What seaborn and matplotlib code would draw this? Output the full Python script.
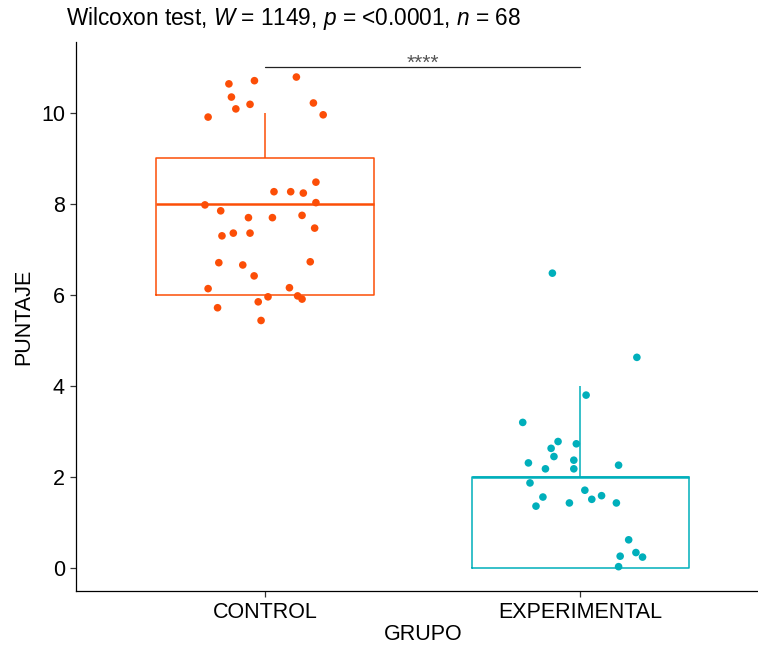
import pandas as pd
import seaborn as sns
import matplotlib.pyplot as plt

# group labels and colours
grupos = ['CONTROL', 'EXPERIMENTAL']
colores = {'CONTROL': '#FC4E07', 'EXPERIMENTAL': '#00AFBB'}

# scores behind the boxes (n = 35 + 33 = 68)
puntaje_control = [6] * 10 + [7] * 5 + [8] * 11 + [10] * 9
puntaje_experimental = [0] * 12 + [2] * 17 + [3, 4, 4, 6]

# jittered points as drawn (y value, x offset from the group centre)
y_control = [10.64, 10.71, 10.79, 10.35, 10.19, 10.09, 10.22, 9.96, 9.91,
             8.48, 8.27, 8.27, 8.24, 7.98, 8.03, 7.85, 7.70, 7.70, 7.75,
             7.47, 7.30, 7.36, 7.36, 6.71, 6.66, 6.73, 6.42, 6.14, 6.16,
             5.96, 5.98, 5.91, 5.85, 5.72, 5.44]
dx_control = [-0.115, -0.034, 0.099, -0.107, -0.048, -0.093, 0.153, 0.184, -0.181,
              0.161, 0.028, 0.081, 0.121, -0.191, 0.161, -0.141, -0.053, 0.023, 0.117,
              0.157, -0.137, -0.101, -0.048, -0.147, -0.071, 0.143, -0.035, -0.181, 0.077,
              0.009, 0.103, 0.117, -0.022, -0.151, -0.013]
y_experimental = [6.48, 4.63, 3.80, 3.20, 2.78, 2.73, 2.63, 2.45, 2.31, 2.37,
                  2.18, 2.18, 2.26, 1.87, 1.71, 1.56, 1.59, 1.51, 1.43, 1.43,
                  1.36, 0.62, 0.34, 0.26, 0.24, 0.03]
dx_experimental = [-0.089, 0.179, 0.018, -0.183, -0.071, -0.013, -0.093, -0.084, -0.165, -0.021,
                   -0.111, -0.021, 0.121, -0.160, 0.014, -0.119, 0.067, 0.036, 0.114, -0.035,
                   -0.141, 0.153, 0.176, 0.126, 0.197, 0.121]

titulo = r"Wilcoxon test, $W$ = 1149, $p$ = <0.0001, $n$ = 68"
signif = '****'
bracket_y = 11

df_box = pd.DataFrame({
    'GRUPO': ['CONTROL'] * len(puntaje_control) + ['EXPERIMENTAL'] * len(puntaje_experimental),
    'PUNTAJE': puntaje_control + puntaje_experimental,
})
df_pts = pd.DataFrame({
    'GRUPO': ['CONTROL'] * len(y_control) + ['EXPERIMENTAL'] * len(y_experimental),
    'PUNTAJE': y_control + y_experimental,
    'dx': dx_control + dx_experimental,
})
df_pts['x'] = df_pts['GRUPO'].map({g: i for i, g in enumerate(grupos)}) + df_pts['dx']

sns.set_style('white')
plt.rcParams['font.family'] = ['Liberation Sans', 'DejaVu Sans']
plt.rcParams['mathtext.fontset'] = 'custom'
plt.rcParams['mathtext.rm'] = 'Liberation Sans'
plt.rcParams['mathtext.it'] = 'Liberation Sans:italic'
plt.rcParams['text.color'] = 'black'
plt.rcParams['axes.labelcolor'] = 'black'

fig = plt.figure(figsize=(7.58, 6.45), dpi=100)
ax = fig.add_axes([76 / 758, 54 / 645, 693.6 / 758, 549 / 645])

sns.boxplot(data=df_box, x='GRUPO', y='PUNTAJE', hue='GRUPO', order=grupos,
            palette=colores, fill=False, width=0.69, linewidth=1.1,
            showfliers=False, showcaps=False, legend=False, ax=ax,
            medianprops={'linewidth': 1.8})
sns.scatterplot(data=df_pts, x='x', y='PUNTAJE', hue='GRUPO', palette=colores,
                s=30, linewidth=0, legend=False, ax=ax, zorder=3)

# significance bracket
ax.plot([0, 1], [bracket_y, bracket_y], color='#222222', linewidth=0.9)
ax.text(0.5, bracket_y - 0.03, signif, ha='center', va='baseline', fontsize=15, color='#555555')

ax.set_xlim(-0.6, 1.6)
ax.set_ylim(-0.505, 11.56)
ax.set_yticks([0, 2, 4, 6, 8, 10])
ax.set_xticks([0, 1])
ax.set_xticklabels(grupos)
ax.set_xlabel('GRUPO', fontsize=15.5, labelpad=1)
ax.set_ylabel('PUNTAJE', fontsize=15.5, labelpad=5)
ax.tick_params(axis='both', labelsize=15.5, length=4, width=0.9, pad=4, colors='#333333',
               labelcolor='black', direction='out', bottom=True, left=True)
sns.despine(ax=ax)
for s in ['left', 'bottom']:
    ax.spines[s].set_color('black')
    ax.spines[s].set_linewidth(0.9)

fig.text(66 / 758, 1 - 19 / 645, titulo, fontsize=16.3, ha='left', va='center')

fig.savefig('out.png', dpi=100)
